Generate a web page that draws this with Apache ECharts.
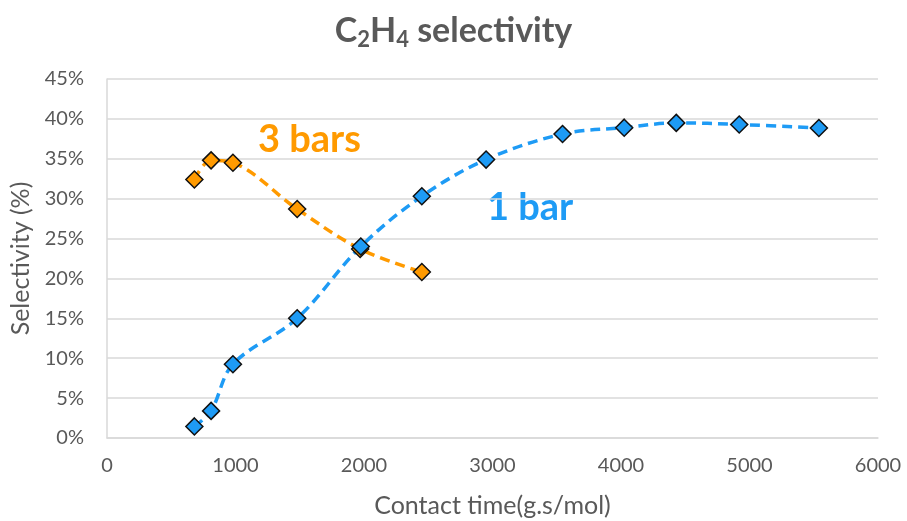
<!DOCTYPE html>
<html><head><meta charset="utf-8">
<script src="https://cdn.jsdelivr.net/npm/echarts@6/dist/echarts.min.js"></script>
<style>html,body{margin:0;padding:0;background:#fff}#c{width:907px;height:521px}</style>
</head><body><div id="c"></div>
<script>
const contactTime3 = [680, 810, 980, 1480, 1970, 2450];
const selectivity3 = [32.4, 34.8, 34.5, 28.7, 23.7, 20.8];
const contactTime1 = [680, 810, 980, 1480, 1975, 2450, 2950, 3545, 4025, 4430, 4920, 5540];
const selectivity1 = [1.45, 3.4, 9.25, 15.0, 24.0, 30.3, 34.9, 38.1, 38.9, 39.5, 39.3, 38.85];
const xTicks = [0, 1000, 2000, 3000, 4000, 5000, 6000];
const yTicks = [0, 5, 10, 15, 20, 25, 30, 35, 40, 45];

const font = 'Lato, "Open Sans", sans-serif';
const chart = echarts.init(document.getElementById('c'));
const mk = (xs, ys) => xs.map((x, i) => [x, ys[i]]);
chart.setOption({
  animation: false,
  title: {
    text: '{b|C}{s|2}{b|H}{s|4}{b| selectivity}',
    left: 'center', top: 6,
    textStyle: {
      rich: {
        b: {fontSize: 34, fontWeight: 'bold', color: '#595959', fontFamily: font},
        s: {fontSize: 22, fontWeight: 'bold', color: '#595959', fontFamily: font, padding: [18, 0, 0, 0]}
      }
    }
  },
  grid: {left: 107, right: 29, top: 79, bottom: 83, containLabel: false, outerBoundsMode: 'none'},
  xAxis: {
    type: 'value', min: xTicks[0], max: xTicks[xTicks.length - 1], interval: 1000,
    name: 'Contact time(g.s/mol)', nameLocation: 'middle', nameGap: 55,
    nameTextStyle: {fontSize: 25, color: '#595959', fontFamily: font},
    axisLine: {lineStyle: {color: '#d9d9d9', width: 1.5}},
    axisTick: {show: false},
    splitLine: {show: false},
    axisLabel: {fontSize: 20, color: '#595959', fontFamily: font, margin: 18, formatter: v => String(v)}
  },
  yAxis: {
    type: 'value', min: yTicks[0], max: yTicks[yTicks.length - 1], interval: 5,
    name: 'Selectivity (%)', nameLocation: 'middle', nameGap: 74, nameRotate: 90,
    nameTextStyle: {fontSize: 25, color: '#595959', fontFamily: font},
    axisLine: {show: true, lineStyle: {color: '#d9d9d9', width: 1.5}},
    axisTick: {show: false},
    splitLine: {lineStyle: {color: '#d9d9d9', width: 1.5}},
    axisLabel: {fontSize: 20, color: '#595959', fontFamily: font, margin: 23, formatter: v => v + '%'}
  },
  series: [
    {
      type: 'line', data: mk(contactTime3, selectivity3), smooth: 0.35,
      lineStyle: {color: '#FF9A00', width: 3.5, type: [10, 6]},
      symbol: 'diamond', symbolSize: 17,
      itemStyle: {color: '#FF9A00', borderColor: '#111', borderWidth: 1.5}
    },
    {
      type: 'line', data: mk(contactTime1, selectivity1), smooth: 0.35,
      lineStyle: {color: '#1E9BF5', width: 3.5, type: [10, 6]},
      symbol: 'diamond', symbolSize: 17,
      itemStyle: {color: '#1E9BF5', borderColor: '#111', borderWidth: 1.5}
    }
  ],
  graphic: [
    {type: 'text', left: 258, top: 121, style: {text: '3 bars', fontSize: 38, fontWeight: 'bold', fill: '#FF9A00', fontFamily: font}},
    {type: 'text', left: 487, top: 189, style: {text: '1 bar', fontSize: 38, fontWeight: 'bold', fill: '#1E9BF5', fontFamily: font}}
  ]
});
</script></body></html>
